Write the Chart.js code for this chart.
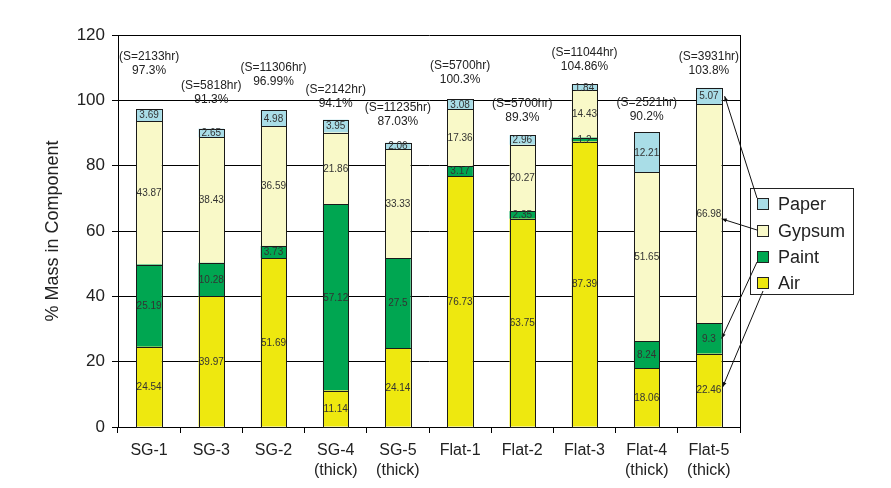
<!DOCTYPE html>
<html>
<head>
<meta charset="utf-8">
<script src="https://cdn.jsdelivr.net/npm/chart.js@4/dist/chart.umd.min.js"></script>
<style>
html,body{margin:0;padding:0;background:#fff;}
#wrap{width:891px;height:488px;}
</style>
</head>
<body>
<div id="wrap"><canvas id="c" width="891" height="488"></canvas></div>
<script>
const categories = [['SG-1'],['SG-3'],['SG-2'],['SG-4','(thick)'],['SG-5','(thick)'],['Flat-1'],['Flat-2'],['Flat-3'],['Flat-4','(thick)'],['Flat-5','(thick)']];
const air    = [24.54, 39.97, 51.69, 11.14, 24.14, 76.73, 63.75, 87.39, 18.06, 22.46];
const paint  = [25.19, 10.28, 3.73, 57.12, 27.5, 3.17, 2.35, 1.2, 8.24, 9.3];
const gypsum = [43.87, 38.43, 36.59, 21.86, 33.33, 17.36, 20.27, 14.43, 51.65, 66.98];
const paper  = [3.69, 2.65, 4.98, 3.95, 2.06, 3.08, 2.96, 1.84, 12.21, 5.07];
const hours  = ['(S=2133hr)','(S=5818hr)','(S=11306hr)','(S=2142hr)','(S=11235hr)','(S=5700hr)','(S=5700hr)','(S=11044hr)','(S=2521hr)','(S=3931hr)'];
const totals = ['97.3%','91.3%','96.99%','94.1%','87.03%','100.3%','89.3%','104.86%','90.2%','103.8%'];
const yTicks = [0, 20, 40, 60, 80, 100, 120];

const FONT = "'Liberation Sans', Arial, Helvetica, sans-serif";
const COLORS = {Air:'#EEE80F', Paint:'#00A651', Gypsum:'#F9F9C8', Paper:'#A9DDE7'};

const annotLift = [38, 29, 28.6, 16, 21, 20, 17.7, 17.6, 15.7, 17.6];

const overlay = {
  id: 'overlay',
  afterDatasetsDraw(chart) {
    const ctx = chart.ctx;
    const ca = chart.chartArea;
    ctx.save();
    // right border
    ctx.strokeStyle = '#000';
    ctx.lineWidth = 1;
    ctx.beginPath();
    ctx.moveTo(Math.round(ca.right) + 0.5, ca.top);
    ctx.lineTo(Math.round(ca.right) + 0.5, ca.bottom);
    ctx.stroke();
    // crisp segment outlines
    ctx.strokeStyle = '#1a1a1a';
    chart.data.datasets.forEach((ds, di) => {
      chart.getDatasetMeta(di).data.forEach(bar => {
        const p = bar.getProps(['x','y','base','width'], true);
        const l = Math.round(p.x - p.width / 2) + 0.5;
        const r = Math.round(p.x + p.width / 2) + 0.5;
        const t = Math.round(p.y) + 0.5;
        const b = Math.round(p.base) + 0.5;
        ctx.strokeRect(l, t, r - l, b - t);
      });
    });
    // segment value labels
    ctx.font = '10px ' + FONT;
    ctx.fillStyle = '#333';
    ctx.textAlign = 'center';
    ctx.textBaseline = 'middle';
    chart.data.datasets.forEach((ds, di) => {
      const meta = chart.getDatasetMeta(di);
      meta.data.forEach((bar, i) => {
        const p = bar.getProps(['x','y','base'], true);
        ctx.fillText(String(ds.data[i]), p.x, (p.y + p.base) / 2 + 0.5);
      });
    });
    // annotations above bars
    const topMeta = chart.getDatasetMeta(chart.data.datasets.length - 1);
    ctx.font = '12px ' + FONT;
    ctx.fillStyle = '#222';
    topMeta.data.forEach((bar, i) => {
      const p = bar.getProps(['x','y'], true);
      const y2 = p.y - annotLift[i];
      ctx.fillText(hours[i], p.x, y2 - 14);
      ctx.fillText(totals[i], p.x, y2);
    });
    // legend
    const lx = 750.5, ly = 188.5, lw = 103, lh = 106;
    ctx.fillStyle = '#fff';
    ctx.fillRect(lx, ly, lw, lh);
    ctx.strokeStyle = '#222';
    ctx.strokeRect(lx, ly, lw, lh);
    const order = ['Paper','Gypsum','Paint','Air'];
    const rowsY = [204, 231, 257, 283];
    ctx.font = '18px ' + FONT;
    ctx.textAlign = 'left';
    order.forEach((name, k) => {
      const cy = rowsY[k];
      ctx.fillStyle = COLORS[name];
      ctx.fillRect(757.5, cy - 5.5, 11, 11);
      ctx.strokeStyle = '#222';
      ctx.strokeRect(757.5, cy - 5.5, 11, 11);
      ctx.fillStyle = '#222';
      ctx.fillText(name, 778, cy + 1);
    });
    // leader arrows from legend to last bar
    const last = categories.length - 1;
    const seg = (di) => {
      const b = chart.getDatasetMeta(di).data[last].getProps(['x','y','base','width'], true);
      return {r: b.x + b.width / 2, c: (b.y + b.base) / 2};
    };
    const arrows = [
      {from:[757, 198], di:3, dx:3, dy:0},
      {from:[757, 230], di:2, dx:0, dy:5},
      {from:[757, 262], di:1, dx:0, dy:0},
      {from:[763, 291], di:0, dx:1, dy:-3}
    ];
    ctx.strokeStyle = '#111';
    ctx.fillStyle = '#111';
    ctx.lineWidth = 1;
    arrows.forEach(a => {
      const s = seg(a.di);
      const tx = s.r + a.dx, ty = s.c + a.dy;
      const fx = a.from[0], fy = a.from[1];
      ctx.beginPath();
      ctx.moveTo(fx, fy);
      ctx.lineTo(tx, ty);
      ctx.stroke();
      const ang = Math.atan2(ty - fy, tx - fx);
      const L = 5, W = 2;
      ctx.beginPath();
      ctx.moveTo(tx, ty);
      ctx.lineTo(tx - L*Math.cos(ang) + W*Math.sin(ang), ty - L*Math.sin(ang) - W*Math.cos(ang));
      ctx.lineTo(tx - L*Math.cos(ang) - W*Math.sin(ang), ty - L*Math.sin(ang) + W*Math.cos(ang));
      ctx.closePath();
      ctx.fill();
    });
    ctx.restore();
  }
};

function mk(label, data) {
  return {
    label, data,
    backgroundColor: COLORS[label],
    borderWidth: 0,
    barPercentage: 0.41,
    categoryPercentage: 1.0
  };
}

new Chart(document.getElementById('c'), {
  type: 'bar',
  data: {
    labels: categories,
    datasets: [mk('Air', air), mk('Paint', paint), mk('Gypsum', gypsum), mk('Paper', paper)]
  },
  options: {
    responsive: false,
    animation: false,
    layout: {padding: {top: 35, right: 151, left: 0, bottom: 0}},
    plugins: {legend: {display: false}, tooltip: {enabled: false}},
    scales: {
      x: {
        stacked: true,
        grid: {display: true, drawOnChartArea: false, offset: true, color: '#000', tickLength: 6, lineWidth: 1},
        border: {display: true, color: '#000', width: 1},
        ticks: {color: '#222', font: {family: FONT, size: 16, lineHeight: 1.25}, padding: 8, maxRotation: 0, autoSkip: false},
        afterFit(s) { s.height = 61; }
      },
      y: {
        stacked: true,
        min: 0, max: 120,
        afterBuildTicks(s) { s.ticks = yTicks.map(v => ({value: v})); },
        grid: {color: '#000', lineWidth: 1, tickLength: 6, drawTicks: true},
        border: {display: true, color: '#000', width: 1},
        ticks: {color: '#222', font: {family: FONT, size: 17}, padding: 7},
        title: {display: true, text: '% Mass in Component', color: '#222', font: {family: FONT, size: 18}, padding: {top: 42, bottom: 0}},
        afterFit(s) { s.width = 118; }
      }
    }
  },
  plugins: [overlay]
});
</script>
</body>
</html>
